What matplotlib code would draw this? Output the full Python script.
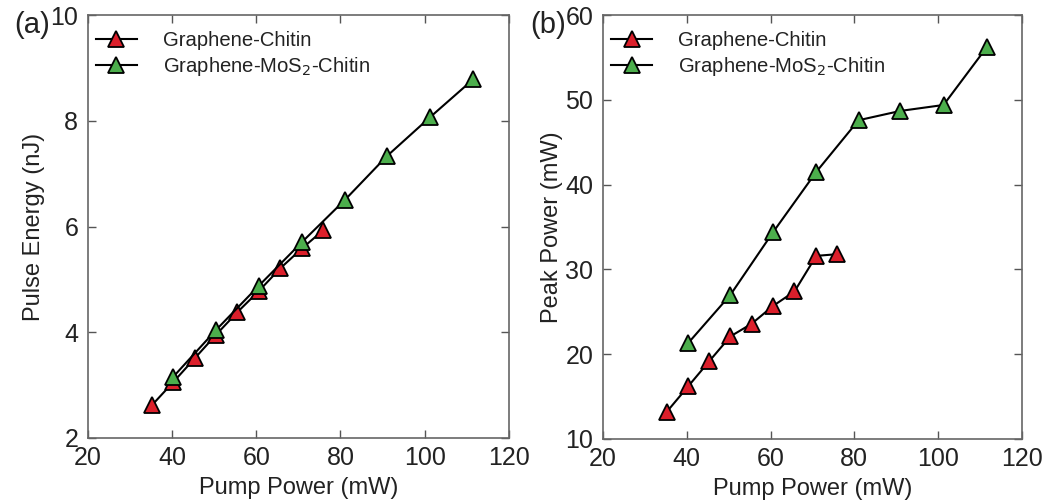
import matplotlib
matplotlib.use("Agg")
import matplotlib.pyplot as plt

plt.rcParams['font.family'] = ['Liberation Sans', 'DejaVu Sans']

# Panel (a): Pulse energy
red_x = [35.2, 40.3, 45.4, 50.4, 55.5, 60.6, 65.7, 70.9, 75.9]
red_energy = [2.62, 3.06, 3.51, 3.95, 4.38, 4.78, 5.21, 5.59, 5.93]
green_x = [40.3, 50.4, 60.6, 70.9, 81.0, 91.0, 101.3, 111.6]
green_energy = [3.16, 4.04, 4.88, 5.71, 6.50, 7.33, 8.07, 8.79]

# Panel (b): Peak power
red_peak = [13.2, 16.2, 19.2, 22.1, 23.6, 25.7, 27.4, 31.6, 31.8]
green_peak = [21.3, 27.0, 34.4, 41.5, 47.6, 48.7, 49.4, 56.2]

labels = ['Graphene-Chitin', 'Graphene-MoS$_2$-Chitin']
red_c = '#dc1f2b'
green_c = '#4cae4c'

fig = plt.figure(figsize=(10.47, 5.04), dpi=100)
ax1 = fig.add_axes([0.084, 0.131, 0.402, 0.839])
ax2 = fig.add_axes([0.576, 0.129, 0.400, 0.841])

def style(ax, ylim, yticks, ylabel, tag, ylpad):
    ax.set_xlim(20, 120)
    ax.set_ylim(*ylim)
    ax.set_xticks([20, 40, 60, 80, 100, 120])
    ax.set_yticks(yticks)
    ax.tick_params(direction='in', top=True, right=True, length=6, width=1,
                   labelsize=18, colors='#555555', labelcolor='#222222')
    ax.tick_params(axis='x', pad=6)
    ax.tick_params(axis='y', pad=7)
    for s in ax.spines.values():
        s.set_color('#666666')
        s.set_linewidth(1.2)
    ax.set_xlabel('Pump Power (mW)', fontsize=17, color='#222222', labelpad=5)
    ax.set_ylabel(ylabel, fontsize=17, color='#222222', labelpad=ylpad)
    ax.text(-0.175, 0.976, tag, transform=ax.transAxes, fontsize=21,
            color='#222222', va='center', ha='left')

for ax, ry, gy in [(ax1, red_energy, green_energy), (ax2, red_peak, green_peak)]:
    ax.plot(red_x, ry, '-', color='black', lw=1.5, marker='^', ms=12,
            mfc=red_c, mec='black', mew=1.3, label=labels[0])
    ax.plot(green_x, gy, '-', color='black', lw=1.5, marker='^', ms=12,
            mfc=green_c, mec='black', mew=1.3, label=labels[1])
    ax.legend(loc='upper left', bbox_to_anchor=(-0.019, 1.0), frameon=False,
              fontsize=14.6, handlelength=2.0, handletextpad=1.3,
              borderaxespad=0.3, borderpad=0.5, labelspacing=0.25,
              labelcolor='#222222')

style(ax1, (2, 10), [2, 4, 6, 8, 10], 'Pulse Energy (nJ)', '(a)', 4)
style(ax2, (10, 60), [10, 20, 30, 40, 50, 60], 'Peak Power (mW)', '(b)', 2)

fig.savefig('out.png', dpi=100)
